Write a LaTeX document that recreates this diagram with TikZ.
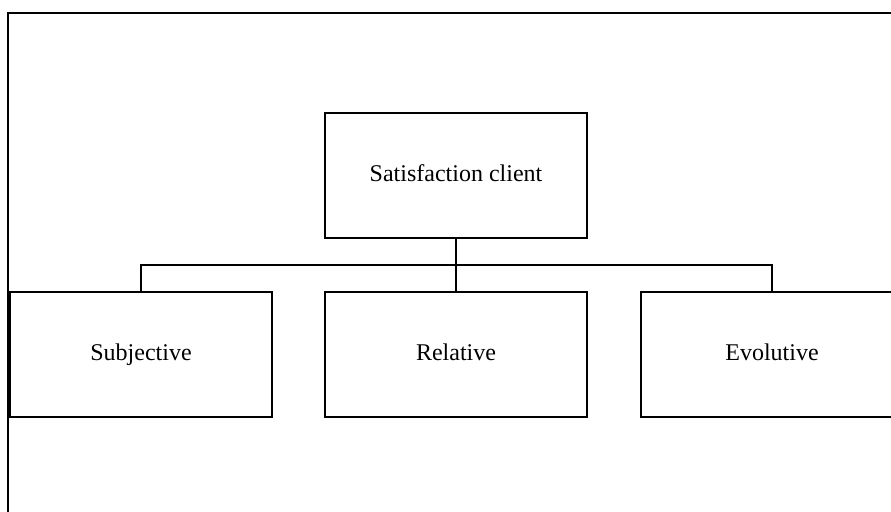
\documentclass[tikz,border=0pt]{standalone}
\usepackage{fontspec}
\setmainfont{Liberation Serif}
\begin{document}
\begin{tikzpicture}[x=0.5pt,y=-0.5pt,
  box/.style={draw=black,line width=1pt,minimum width=131pt,minimum height=62.5pt,inner sep=0pt,text height=8.5pt,text depth=2.5pt,font=\fontsize{12}{14}\selectfont},
  link/.style={draw=black,line width=1pt}]
\useasboundingbox (0,0) rectangle (891,511);
\clip (0,0) rectangle (891,511);
\fill[white] (0,0) rectangle (891,511);
\draw[line width=1.3pt] (8,520) -- (8,13) -- (900,13);
\node[box] (top) at (456,175) {Satisfaction client};
\node[box] (left) at (141,354.5) {Subjective};
\node[box] (mid) at (456,354.5) {Relative};
\node[box] (right) at (772,354.5) {Evolutive};
\coordinate (bus) at (456,265);
\draw[link] (top.south) -- (mid.north);
\draw[link] (left.north) |- (bus) -| (right.north);
\end{tikzpicture}
\end{document}
